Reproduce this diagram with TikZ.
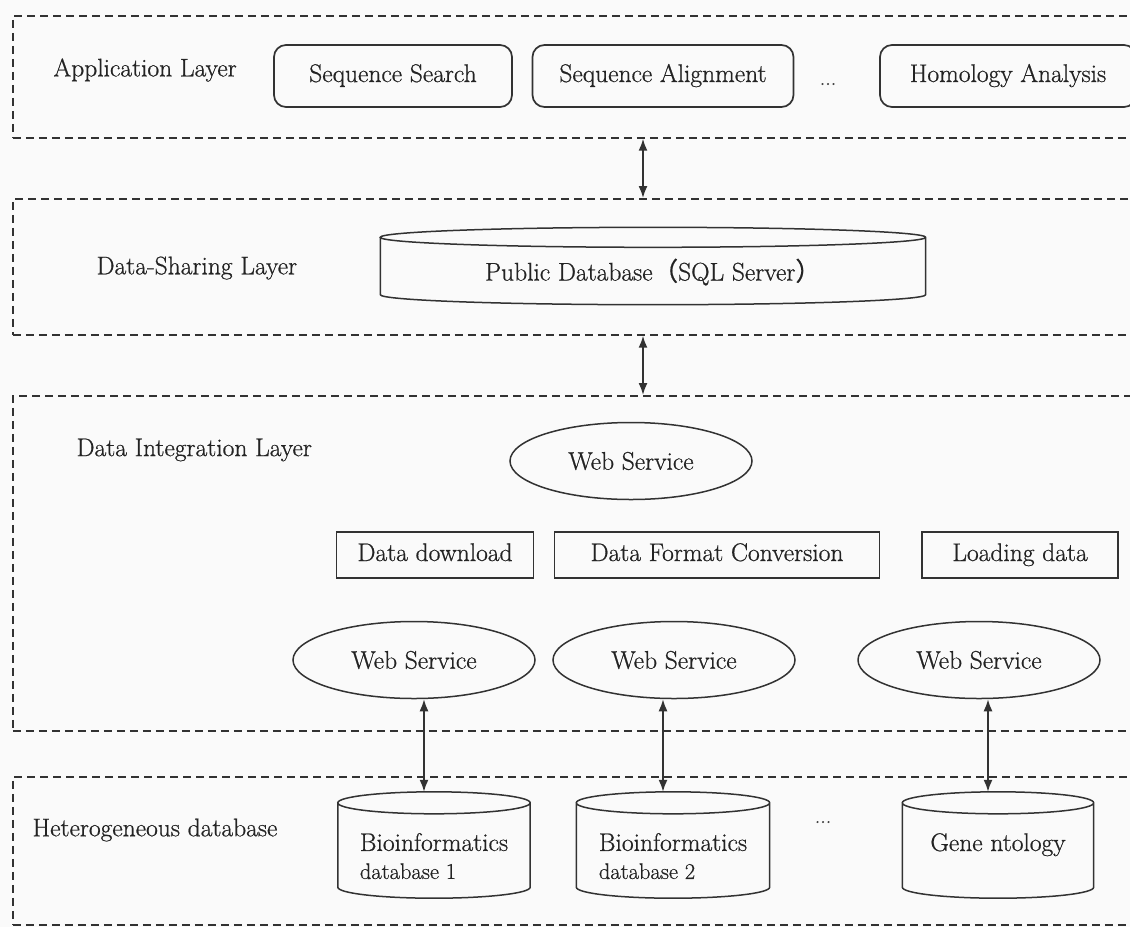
\documentclass[tikz,border=0pt]{standalone}
\usepackage{fontspec}
\setmainfont{Latin Modern Roman}[FakeBold=0.7]
\newfontfamily\cjk{Noto Sans CJK SC}[FakeBold=0.7]
\usepackage{tikz}
\usetikzlibrary{shapes.geometric,arrows.meta,calc}
\definecolor{ink}{RGB}{50,50,50}
\definecolor{txt}{RGB}{35,35,35}
\definecolor{paper}{RGB}{250,250,250}
% outline of a database drum around a node: #1 node, #2 cap radius
\newcommand\cylout[2]{%
  \draw[ink, line width=1.5pt] let \p1=(#1.north west), \p2=(#1.south east),
    \n1={(\x2-\x1)/2} in
    (\x1,{\y1-#2pt}) -- (\x1,{\y2+#2pt})
    arc[start angle=180, end angle=360, x radius=\n1*1pt, y radius=#2pt]
    -- (\x2,{\y1-#2pt})
    arc[start angle=0, end angle=360, x radius=\n1*1pt, y radius=#2pt];
}

\begin{document}
\begin{tikzpicture}[x=1pt, y=-1pt,
    font=\fontsize{25.5}{28}\selectfont, every node/.style={text=txt},
    layer/.style={draw=ink, line width=1.7pt, dash pattern=on 8pt off 5pt,
      anchor=north west, inner sep=0pt, minimum width=1133pt},
    lbl/.style={anchor=west},
    appbox/.style={draw=ink, line width=1.7pt, rounded corners=12pt,
      minimum height=62pt, inner sep=0pt, text height=18pt, text depth=6pt},
    stepbox/.style={draw=ink, line width=1.5pt, minimum height=46pt, inner sep=0pt,
      text height=18pt, text depth=6pt},
    svc/.style={draw=ink, line width=1.5pt, ellipse, minimum width=242pt,
      minimum height=77pt, inner sep=0pt},
    dbnode/.style={inner sep=0pt, align=left},
    etc/.style={font=\fontsize{22}{24}\selectfont, text=ink},
    dbl/.style={<->, >={Latex[length=12pt,width=9pt]}, line width=1.7pt, draw=ink}]
  \useasboundingbox (0,0) rectangle (1130,927);
  \fill[paper] (0,0) rectangle (1130,927);
  % application layer
  \node[layer, minimum height=122pt] (applyr) at (12,15) {};
  \node[lbl] (applbl) at (50,70) {Application Layer};
  \node[appbox, minimum width=238pt] (seqsearch) at (393,76) {Sequence Search};
  \node[appbox, minimum width=261pt] (seqalign) at (663,76) {Sequence Alignment};
  \node[etc] (appdots) at (828,84) {...};
  \node[appbox, minimum width=256pt] (homology) at (1008,76) {Homology Analysis};
  % data-sharing layer
  \node[layer, minimum height=136pt] (sharelyr) at (12,198) {};
  \node[lbl] (sharelbl) at (93,268) {Data-Sharing Layer};
  \node[dbnode, minimum width=545pt, minimum height=77pt] (pubdb) at (653,266)
    {\rule{0pt}{34pt}Public Database{\cjk （}SQL Server{\cjk ）}};
  \cylout{pubdb}{10}
  % data integration layer
  \node[layer, minimum height=335pt] (intlyr) at (12,395) {};
  \node[lbl] (intlbl) at (73,450) {Data Integration Layer};
  \node[svc] (wstop) at (631,461) {Web Service};
  \node[stepbox, minimum width=197pt] (download) at (435,555) {Data download};
  \node[stepbox, minimum width=325pt] (convert) at (717,555) {Data Format Conversion};
  \node[stepbox, minimum width=196pt] (loading) at (1020,555) {Loading data};
  \node[svc] (ws1) at (414,660) {Web Service};
  \node[svc] (ws2) at (674,660) {Web Service};
  \node[svc] (ws3) at (979,660) {Web Service};
  % heterogeneous databases
  \node[layer, minimum height=148pt] (hetlyr) at (12,776) {};
  \node[lbl] (hetlbl) at (29,830) {Heterogeneous database};
  \node[dbnode, minimum width=192pt, minimum height=106pt] (db1) at (434,845)
    {\rule{0pt}{40pt}Bioinformatics\\{\fontsize{22.5}{28}\selectfont database 1}};
  \node[dbnode, minimum width=193pt, minimum height=106pt] (db2) at (673,845)
    {\rule{0pt}{40pt}Bioinformatics\\{\fontsize{22.5}{28}\selectfont database 2}};
  \node[etc] (hetdots) at (823,822) {...};
  \node[dbnode, minimum width=191pt, minimum height=106pt] (gene) at (998,845)
    {\rule{0pt}{40pt}Gene ntology\\\mbox{}};
  \foreach \d in {db1,db2,gene} \cylout{\d}{11}
  % connectors
  \coordinate (mid) at (643,0);
  \draw[dbl] (applyr.south -| mid) -- (sharelyr.north -| mid);
  \draw[dbl] (sharelyr.south -| mid) -- (intlyr.north -| mid);
  \foreach \w/\d in {ws1/db1, ws2/db2, ws3/gene}
    \draw[dbl] ([xshift=-10pt]\d.north) -- ([xshift=-10pt]\d.north |- \w.south);
\end{tikzpicture}
\end{document}
